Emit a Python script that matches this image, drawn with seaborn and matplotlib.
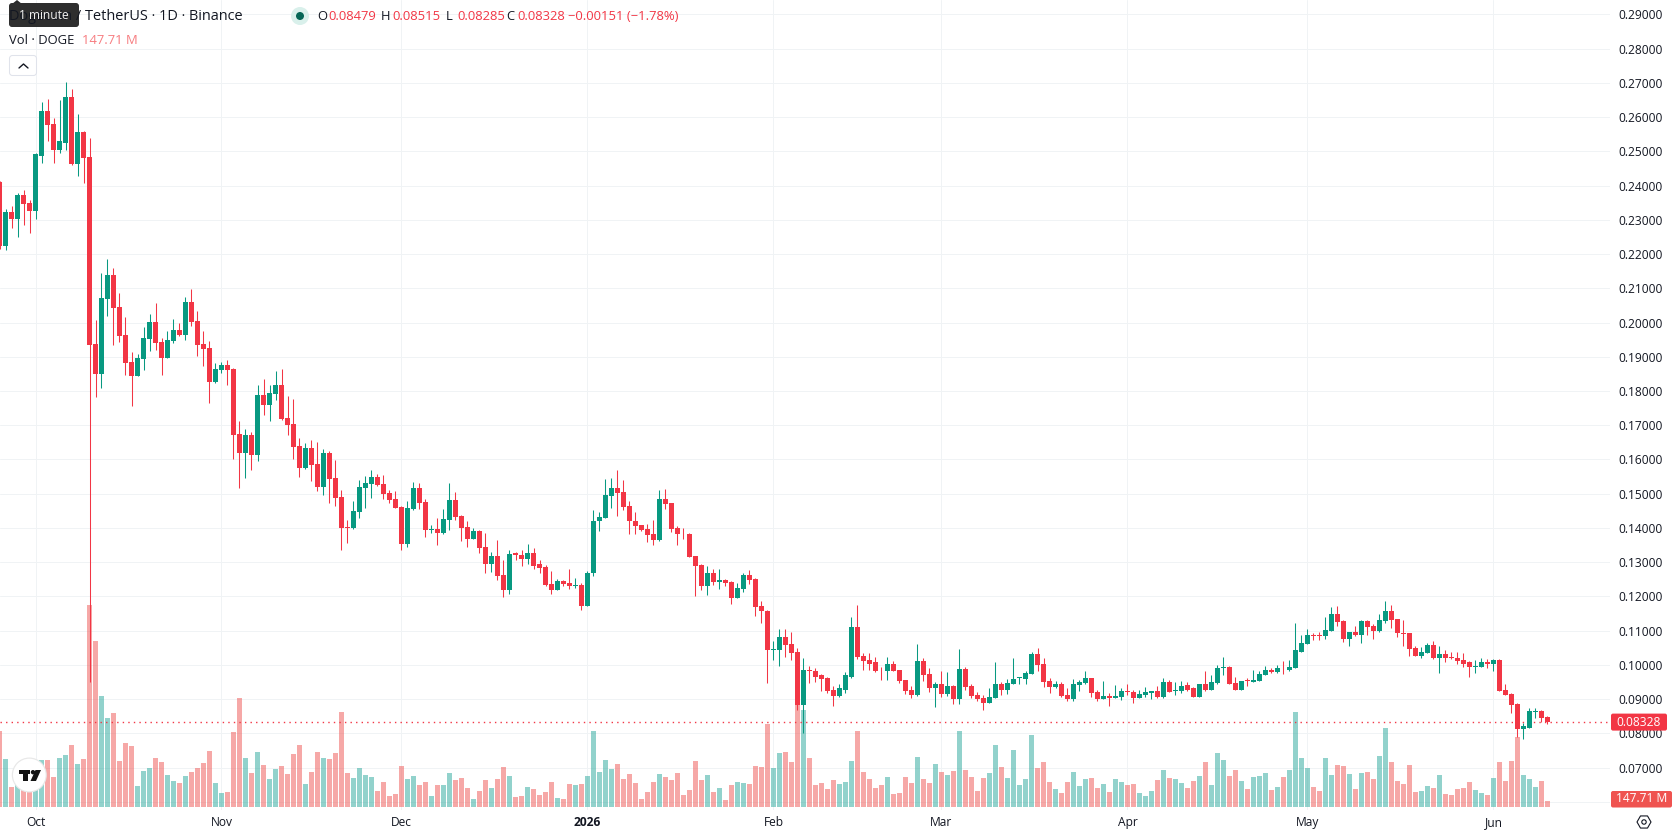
import numpy as np
import pandas as pd
import seaborn as sns
import matplotlib
matplotlib.use("Agg")
import matplotlib.pyplot as plt
from matplotlib.patches import Circle, FancyBboxPatch, Polygon, Rectangle

# Daily DOGE/USDT session data, 25 Sep 2025 to 10 Jun 2026
opens = [
    .2412, .2225, .2324, .2304, .2374, .2348, .2327, .2488, .2619, .2581,
    .2505, .2526, .2660, .2464, .2558, .2485, .1937, .1849, .2068, .2138,
    .2045, .1963, .1884, .1843, .1893, .1951, .2001, .1943, .1896, .1945,
    .1978, .1963, .2059, .2004, .1937, .1925, .1826, .1861, .1875, .1864,
    .1674, .1618, .1671, .1612, .1788, .1758, .1791, .1817, .1721, .1703,
    .1639, .1574, .1633, .1586, .1519, .1618, .1545, .1490, .1402, .1399,
    .1446, .1516, .1528, .1548, .1528, .1501, .1484, .1460, .1352, .1454,
    .1516, .1477, .1395, .1398, .1386, .1424, .1483, .1436, .1404, .1369,
    .1392, .1343, .1296, .1319, .1264, .1220, .1326, .1322, .1310, .1328,
    .1296, .1287, .1237, .1220, .1246, .1240, .1229, .1234, .1173, .1267,
    .1419, .1430, .1494, .1518, .1506, .1465, .1421, .1410, .1398, .1381,
    .1366, .1486, .1474, .1401, .1383, .1381, .1319, .1293, .1231, .1267,
    .1243, .1249, .1243, .1194, .1223, .1264, .1252, .1173, .1158, .1042,
    .1042, .1080, .1062, .1039, .0884, .0986, .0983, .0969, .0963, .0928,
    .0910, .0928, .0966, .1112, .1027, .1013, .1007, .0986, .0983, .1004,
    .0986, .0957, .0928, .0913, .1010, .0972, .0931, .0943, .0916, .0937,
    .0899, .0989, .0937, .0913, .0902, .0890, .0902, .0945, .0928, .0945,
    .0961, .0960, .0972, .1033, .1004, .0954, .0934, .0943, .0913, .0899,
    .0940, .0948, .0963, .0922, .0899, .0910, .0902, .0907, .0925, .0922,
    .0902, .0913, .0919, .0925, .0905, .0951, .0925, .0925, .0940, .0931,
    .0907, .0943, .0928, .0948, .0992, .0995, .0948, .0928, .0956, .0951,
    .0954, .0969, .0986, .0978, .0992, .0986, .0992, .1039, .1062, .1086,
    .1086, .1083, .1100, .1150, .1127, .1077, .1097, .1086, .1127, .1115,
    .1100, .1127, .1156, .1135, .1094, .1092, .1048, .1027, .1036, .1059,
    .1021, .1033, .1024, .1021, .1013, .1007, .0995, .0995, .1007, .1004,
    .1013, .0928, .0916, .0887, .0814, .0817, .0861, .0864, .08479,
]
highs = [
    .2415, .2332, .2342, .2378, .2388, .2359, .2494, .2643, .2654, .2599,
    .2651, .2704, .2683, .2610, .2561, .2540, .2007, .2144, .2185, .2159,
    .2086, .2016, .1913, .1907, .1986, .2024, .2056, .1954, .1975, .2010,
    .1998, .2074, .2097, .2033, .1975, .1945, .1881, .1884, .1890, .1867,
    .1712, .1688, .1680, .1817, .1834, .1817, .1858, .1864, .1785, .1776,
    .1662, .1647, .1656, .1650, .1630, .1624, .1598, .1510, .1422, .1478,
    .1539, .1551, .1569, .1557, .1554, .1510, .1507, .1463, .1478, .1533,
    .1531, .1486, .1410, .1430, .1454, .1532, .1506, .1439, .1419, .1401,
    .1395, .1386, .1331, .1366, .1307, .1337, .1331, .1337, .1354, .1340,
    .1305, .1293, .1275, .1252, .1249, .1281, .1255, .1240, .1275, .1451,
    .1448, .1544, .1547, .1568, .1541, .1480, .1448, .1410, .1413, .1424,
    .1512, .1515, .1474, .1407, .1401, .1386, .1319, .1296, .1290, .1281,
    .1281, .1252, .1246, .1240, .1269, .1278, .1255, .1188, .1161, .1071,
    .1106, .1106, .1097, .1048, .1021, .0998, .0992, .0972, .0966, .0937,
    .0945, .0978, .1141, .1176, .1036, .1036, .1024, .0995, .1024, .1010,
    .0986, .0957, .0937, .1062, .1019, .0992, .0951, .0981, .0978, .0940,
    .1045, .0995, .0945, .0922, .0913, .0931, .1007, .0951, .0960, .1021,
    .0966, .0983, .1039, .1048, .1019, .0963, .0954, .0951, .0931, .0960,
    .0957, .0981, .0963, .0928, .0954, .0919, .0940, .0931, .0945, .0928,
    .0928, .0934, .0925, .0937, .0963, .0957, .0951, .0954, .0951, .0934,
    .0945, .0981, .0969, .1000, .1024, .0998, .0966, .0954, .0963, .0986,
    .0981, .0998, .0992, .1000, .1010, .1013, .1121, .1086, .1106, .1094,
    .1097, .1141, .1168, .1173, .1132, .1097, .1115, .1130, .1130, .1118,
    .1150, .1188, .1176, .1135, .1130, .1092, .1056, .1051, .1065, .1071,
    .1054, .1042, .1039, .1039, .1036, .1010, .1013, .1019, .1016, .1016,
    .1016, .0945, .0919, .0890, .0831, .0875, .0875, .0869, .08515,
]
lows = [
    .2215, .2213, .2277, .2251, .2286, .2263, .2304, .2467, .2529, .2467,
    .2496, .2505, .2461, .2429, .2409, .0951, .1782, .1808, .2019, .1934,
    .1943, .1846, .1756, .1843, .1861, .1916, .1919, .1846, .1896, .1940,
    .1960, .1948, .1989, .1902, .1872, .1764, .1823, .1852, .1817, .1601,
    .1516, .1545, .1569, .1595, .1729, .1712, .1773, .1715, .1671, .1601,
    .1548, .1571, .1536, .1507, .1495, .1472, .1463, .1337, .1355, .1396,
    .1428, .1457, .1487, .1522, .1484, .1472, .1457, .1335, .1343, .1451,
    .1455, .1375, .1386, .1351, .1381, .1395, .1424, .1363, .1345, .1369,
    .1328, .1267, .1272, .1249, .1199, .1208, .1307, .1290, .1296, .1281,
    .1267, .1231, .1208, .1220, .1229, .1223, .1226, .1161, .1173, .1261,
    .1392, .1430, .1459, .1436, .1451, .1381, .1383, .1392, .1360, .1351,
    .1363, .1456, .1389, .1351, .1369, .1316, .1202, .1220, .1205, .1234,
    .1223, .1231, .1179, .1194, .1214, .1237, .1144, .1123, .0948, .1013,
    .0998, .1024, .1013, .0869, .0802, .0948, .0951, .0925, .0919, .0881,
    .0907, .0919, .0963, .1016, .0986, .0986, .0978, .0957, .0957, .0983,
    .0948, .0916, .0902, .0910, .0954, .0922, .0878, .0907, .0910, .0887,
    .0887, .0928, .0902, .0893, .0867, .0890, .0902, .0913, .0916, .0945,
    .0943, .0945, .0972, .0983, .0934, .0919, .0931, .0907, .0893, .0893,
    .0925, .0945, .0907, .0893, .0899, .0881, .0902, .0896, .0913, .0890,
    .0902, .0907, .0899, .0902, .0902, .0922, .0913, .0919, .0925, .0905,
    .0907, .0925, .0928, .0945, .0969, .0943, .0928, .0928, .0937, .0951,
    .0954, .0969, .0975, .0975, .0972, .0981, .0992, .1039, .1062, .1074,
    .1074, .1077, .1100, .1115, .1068, .1056, .1083, .1065, .1086, .1077,
    .1097, .1121, .1109, .1080, .1056, .1027, .1027, .1021, .1036, .1016,
    .0975, .1007, .1018, .1004, .0995, .0966, .0975, .0995, .0992, .0981,
    .0925, .0913, .0858, .0788, .0782, .0817, .0846, .0832, .08285,
]
closes = [
    .2225, .2324, .2304, .2374, .2345, .2327, .2492, .2619, .2578, .2505,
    .2529, .2660, .2464, .2558, .2482, .1934, .1849, .2071, .2138, .2042,
    .1960, .1881, .1843, .1896, .1954, .2001, .1940, .1896, .1948, .1978,
    .1963, .2059, .2001, .1934, .1922, .1826, .1864, .1875, .1861, .1671,
    .1618, .1671, .1612, .1788, .1758, .1794, .1817, .1718, .1700, .1636,
    .1574, .1633, .1583, .1519, .1618, .1542, .1487, .1399, .1399, .1449,
    .1519, .1531, .1548, .1525, .1498, .1481, .1457, .1352, .1457, .1516,
    .1472, .1395, .1398, .1386, .1427, .1483, .1433, .1401, .1369, .1392,
    .1340, .1296, .1319, .1261, .1220, .1325, .1322, .1310, .1328, .1290,
    .1284, .1234, .1220, .1246, .1237, .1229, .1234, .1173, .1269, .1421,
    .1433, .1497, .1518, .1503, .1462, .1419, .1407, .1395, .1378, .1366,
    .1486, .1471, .1398, .1381, .1381, .1316, .1290, .1231, .1267, .1243,
    .1249, .1240, .1194, .1226, .1264, .1249, .1170, .1156, .1042, .1045,
    .1080, .1059, .1036, .0884, .0986, .0983, .0966, .0960, .0925, .0910,
    .0931, .0969, .1112, .1024, .1010, .1004, .0983, .0984, .1004, .0983,
    .0954, .0925, .0913, .1010, .0969, .0931, .0943, .0916, .0937, .0899,
    .0989, .0934, .0910, .0899, .0890, .0907, .0945, .0928, .0948, .0960,
    .0964, .0975, .1033, .1001, .0951, .0934, .0943, .0910, .0899, .0943,
    .0951, .0963, .0919, .0899, .0910, .0902, .0910, .0925, .0922, .0902,
    .0916, .0922, .0925, .0905, .0951, .0922, .0928, .0937, .0928, .0907,
    .0943, .0928, .0951, .0992, .0995, .0945, .0928, .0954, .0953, .0957,
    .0972, .0986, .0978, .0992, .0990, .0995, .1042, .1065, .1086, .1083,
    .1083, .1103, .1150, .1124, .1077, .1097, .1086, .1127, .1112, .1100,
    .1130, .1156, .1132, .1092, .1089, .1045, .1027, .1039, .1059, .1021,
    .1033, .1021, .1021, .1010, .1004, .0995, .0998, .1007, .1004, .1013,
    .0925, .0913, .0884, .0814, .0820, .0864, .0864, .0846, .08328,
]
# Traded volume in millions of DOGE
volumes = [
    1824, 1152, 480, 680, 640, 520, 1000, 1128, 1128, 720,
    1176, 1248, 1488, 1032, 1152, 4848, 3984, 2664, 2136, 2256,
    1104, 1536, 1464, 504, 864, 936, 1176, 1080, 768, 624,
    576, 744, 840, 936, 1056, 1344, 576, 336, 360, 1800,
    2616, 1176, 816, 1320, 1008, 672, 912, 984, 792, 1272,
    1488, 552, 840, 1320, 1176, 1152, 1296, 2280, 816, 696,
    936, 768, 720, 384, 600, 264, 312, 984, 672, 744,
    528, 600, 264, 528, 528, 816, 648, 696, 456, 192,
    384, 648, 456, 672, 960, 744, 240, 264, 480, 432,
    288, 360, 600, 216, 192, 552, 528, 552, 744, 1824,
    840, 1128, 912, 1032, 672, 792, 576, 192, 360, 600,
    792, 720, 648, 816, 288, 408, 1104, 648, 768, 360,
    456, 168, 528, 600, 576, 552, 984, 960, 1992, 936,
    1296, 1320, 1080, 2720, 2328, 1176, 528, 576, 432, 648,
    552, 600, 1104, 1824, 840, 672, 456, 528, 720, 312,
    336, 720, 576, 1200, 672, 576, 1032, 840, 768, 864,
    1824, 888, 720, 384, 696, 816, 1488, 960, 696, 1368,
    528, 672, 1728, 936, 1080, 600, 432, 336, 600, 840,
    504, 672, 696, 456, 552, 360, 672, 600, 528, 552,
    336, 264, 384, 648, 888, 696, 672, 576, 456, 624,
    744, 1080, 528, 1296, 1128, 744, 888, 624, 432, 720,
    744, 816, 408, 480, 720, 888, 2280, 1176, 936, 480,
    384, 1176, 768, 1008, 984, 792, 432, 816, 840, 672,
    1224, 1896, 1080, 624, 552, 1008, 360, 384, 504, 456,
    768, 312, 288, 432, 456, 600, 408, 336, 288, 696,
    1080, 624, 1104, 1680, 768, 672, 480, 624, 147.71,
]
first_day = -6  # 25 Sep 2025, counted from 1 Oct 2025
month_days = [0, 31, 61, 92, 123, 151, 182, 212, 243]
month_labels = ["Oct", "Nov", "Dec", "2026", "Feb", "Mar", "Apr", "May", "Jun"]
price_ticks = [round(0.06 + 0.01 * k, 2) for k in range(24)]

UP, DOWN = "#089981", "#F23645"
VOL_UP, VOL_DOWN = "#26A69A", "#EF5350"
GRID = "#f0f3f5"
INK = "#131722"
FONT = ["Open Sans", "DejaVu Sans"]

df = pd.DataFrame({"open": opens, "high": highs, "low": lows, "close": closes, "volume": volumes})
df["day"] = first_day + np.arange(len(df))
df["direction"] = np.where(df["close"] >= df["open"], "up", "down")

sns.set_theme(style="white")
plt.rcParams["font.family"] = FONT

W, H = 1678, 835
PANE_W, PANE_H = 1610, 810
fig = plt.figure(figsize=(W / 100, H / 100), dpi=100, facecolor="white")
rect = [0, 1 - PANE_H / H, PANE_W / W, PANE_H / H]

# Shared horizontal scale: one day is six pixels
px_per_day, day0_px = 6.0, 35.5
x_limits = (-day0_px / px_per_day, (PANE_W - day0_px) / px_per_day)

# Volume histogram sits underneath the candles on its own scale
vol_ax = fig.add_axes(rect, zorder=1)
sns.barplot(data=df, x="day", y="volume", hue="direction", hue_order=["up", "down"],
            palette={"up": VOL_UP, "down": VOL_DOWN}, native_scale=True, dodge=False,
            width=5 / 6, alpha=0.5, saturation=1, errorbar=None, legend=False,
            linewidth=0, ax=vol_ax)
vol_ax.set_xlim(x_limits)
vol_ax.set_ylim(-3 * 24, (PANE_H - 3) * 24)
vol_ax.axis("off")

# Price pane with grid, month ticks and right-hand price scale
ax = fig.add_axes(rect, zorder=0)
price_top = 0.29 + 14.5 / 3423
price_bottom = price_top - PANE_H / 3423
ax.set_xlim(x_limits)
ax.set_ylim(price_bottom, price_top)
ax.set_xticks(month_days, month_labels)
ax.set_yticks(price_ticks, [f"{p:.5f}" for p in price_ticks])
ax.yaxis.tick_right()
ax.grid(True, color=GRID, linewidth=0.72)
ax.tick_params(axis="both", length=0, labelsize=8.64, labelcolor=INK)
ax.tick_params(axis="y", pad=5.8)
ax.tick_params(axis="x", pad=4.5)
ax.get_xticklabels()[3].set_fontweight("bold")
for spine in ax.spines.values():
    spine.set_visible(False)

# Candles on a transparent layer above the volume bars
candle_ax = fig.add_axes(rect, zorder=2, sharex=ax, sharey=ax)
candle_ax.patch.set_alpha(0)
candle_ax.axis("off")
colors = np.where(df["direction"] == "up", UP, DOWN)
candle_ax.vlines(df["day"], df["low"], df["high"], colors=colors, linewidth=0.75, zorder=2)
body_low = df[["open", "close"]].min(axis=1)
body_high = df[["open", "close"]].max(axis=1)
candle_ax.bar(df["day"], body_high - body_low, bottom=body_low, width=5 / 6,
              color=colors, linewidth=0, zorder=3)

last_close = closes[-1]
candle_ax.axhline(last_close, color=DOWN, linewidth=1, linestyle=(0, (1, 3)), zorder=1)

# Pixel-addressed layer for the chart's interface furniture
ui = fig.add_axes([0, 0, 1, 1], zorder=5)
ui.set_xlim(0, W)
ui.set_ylim(H, 0)
ui.axis("off")


def label(x, y, s, color=INK, size=13, **kw):
    ui.text(x, y, s, color=color, fontsize=size * 0.72, va="center", **kw)


# Series header
label(9, 16, "Dogecoin / TetherUS · 1D · Binance", size=14.5)
ui.add_patch(Circle((300, 16), 9, color="#d9f0eb", lw=0))
ui.add_patch(Circle((300, 16), 4, color="#056656", lw=0))
header = [("O", 317, "0.08479"), ("H", 381, "0.08515"), ("L", 446, "0.08285"), ("C", 506, "0.08328")]
for letter, x, value in header:
    label(x, 16, letter, size=13)
    label(x + 11, 16, value, color=DOWN, size=13)
label(568, 16, "−0.00151 (−1.78%)", color=DOWN, size=13)

# Volume legend and collapse button
label(9, 40.5, "Vol · DOGE", size=13)
label(82, 40.5, "147.71 M", color="#f77c80", size=13)
ui.add_patch(FancyBboxPatch((9.5, 55.5), 27, 20, boxstyle="round,pad=0,rounding_size=3",
                            fc="white", ec="#e0e3eb", lw=0.75))
ui.plot([19, 23.5, 28], [68, 64, 68], color=INK, lw=1, solid_capstyle="round")

# Hover tooltip over the start of the header
ui.add_patch(Polygon([(12, 4), (17, 0), (22, 4)], closed=True, fc="#2a2a2a", lw=0))
ui.add_patch(FancyBboxPatch((9, 3), 70, 24, boxstyle="round,pad=0,rounding_size=3", fc="#2e2e2e", lw=0))
label(44, 15.5, "1 minute", color="#f0f0f0", size=12, ha="center")

# Last price and last volume tags on the scale
close_y = (price_top - last_close) * 3423
ui.add_patch(FancyBboxPatch((1611, close_y - 8.5), 56, 17, boxstyle="round,pad=0,rounding_size=2", fc=DOWN, lw=0))
label(1639, close_y, f"{last_close:.5f}", color="white", size=12, ha="center")
ui.add_patch(FancyBboxPatch((1611, 791), 61, 16.5, boxstyle="round,pad=0,rounding_size=2", fc="#EF5350", lw=0))
label(1641.5, 799, "147.71 M", color="white", size=12, ha="center")

# Settings glyph in the scale corner
hex_angles = np.deg2rad(np.arange(0, 360, 60))
ui.add_patch(Polygon(np.c_[1644 + 7 * np.cos(hex_angles), 822 + 7 * np.sin(hex_angles)], closed=True,
                     fc="none", ec=INK, lw=0.8))
ui.add_patch(Circle((1644, 822), 2.2, fc="none", ec=INK, lw=0.8))

# Badge in the lower-left corner of the pane
ui.add_patch(Circle((29.3, 775), 17.5, fc="#e8e8e8", lw=0))
ui.add_patch(Circle((29.3, 775), 16.3, fc="white", lw=0))
ui.add_patch(Rectangle((19, 770), 11, 4.2, fc="#131313", lw=0))
ui.add_patch(Rectangle((23, 774), 4.5, 7, fc="#131313", lw=0))
ui.add_patch(Circle((33, 772.2), 2.2, fc="#131313", lw=0))
ui.add_patch(Polygon([(35.5, 770), (41, 770), (36, 781), (30.5, 781)], closed=True, fc="#131313", lw=0))

fig.savefig("out.png", dpi=100)
